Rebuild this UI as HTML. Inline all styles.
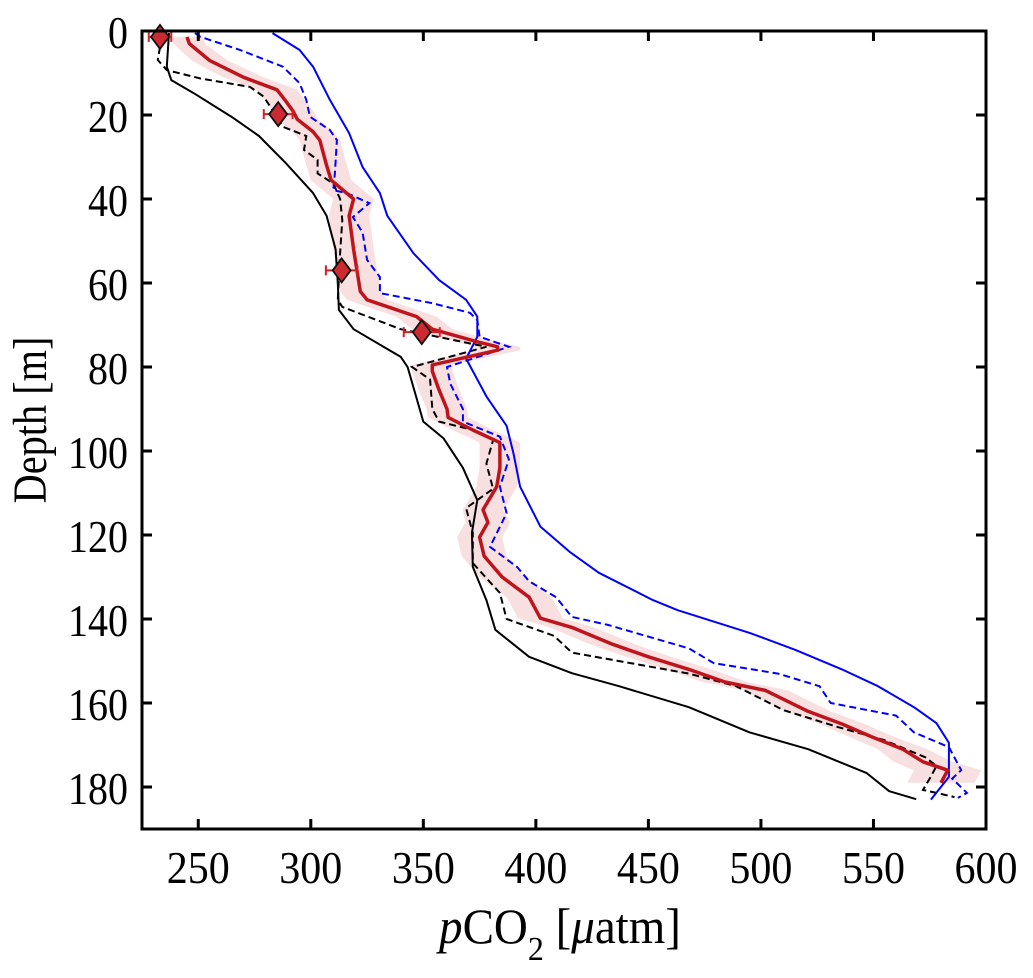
<!DOCTYPE html>
<html><head><meta charset="utf-8"><style>
html,body{margin:0;padding:0;background:#fff;}
svg{display:block;}
text{font-family:"Liberation Serif",serif;fill:#000;}
</style></head><body>
<svg id="chart" width="1033" height="978" viewBox="0 0 1033 978" xmlns="http://www.w3.org/2000/svg">
<g id="plot"></g>
<g id="axes"></g>
<text x="0" y="0" transform="translate(46,420) rotate(-90) scale(0.84,1)" text-anchor="middle" font-size="48">Depth [m]</text>
<text x="0" y="0" transform="translate(560,943) scale(0.94,1)" text-anchor="middle" font-size="50"><tspan font-style="italic">p</tspan>CO<tspan font-size="34" dy="17">2</tspan><tspan dy="-17"> [</tspan><tspan font-style="italic">μ</tspan>atm]</text>
</svg>
<script>
// ---- data ----
const redDepth=[1.4,3,7,11,14,16.4,19,21,24,26,32,35.5,40,44,52,62,64,68,71,74,75.2,76,79.5,81,85.5,90,92,95,98,104,108.5,114,117,120.5,125,130,134.8,139.8,142,146,149,152,155,157,162,165,168,171,174,176,179];
const redVal=[245,246,255,270,285,288.5,292,294,301,304,307,309,319,317,319,322,325,347,354,374,383,383,354,354,357,360.5,361,372,384,384,382.6,376.5,378.7,375,377,385,397,402,416,434,450,468,484,502,521,536,549,563,572,583,580];
const bandHalf=[7,7,8,9,9,9,9,9,9,9,9,9,9,9,9,9,9,9,9,9,10,10,9,9,9,9,9,9,9,9,9,9,10,10,10,10,10,10,10,10,10,10,10,10,10,10,10,11,13,15,15];
const blackDepth=[0.5,8.5,11.7,14.8,20.5,25,31.5,38.6,44,52,60,66.4,71,77.6,80,93,97,104,111.7,119.5,127.6,135.5,142.6,149,152.9,156,161,167,171,176.7,181,182.9];
const blackVal=[237,236,238,248,265,277,289,301,307,311,312,312.5,319,340,343,350,359,367.6,374,371.6,372,378,382,397,416,437,468,495,521,547,557,569];
const bdDepth=[3.8,6.9,9.3,11.3,13.3,15.6,18.8,22.8,25,28.3,30.7,33.9,36.3,40,45,52.9,64,65.7,71,75.2,80,83,90,93,95,97.4,103,109,113.6,119.5,126.7,133.8,140,144,148,150.5,153,156,161.7,165.7,168.8,172.9,175,178,180.7,181.4,182.4];
const bdVal=[233,232,236,251,273,279,283,287.6,298,297,303,303,310,313,314,313,312,314,340,378,345,353,354,357,372,381,378,381,369,372,372,384,387,408,416,442,468,489,510,534,554.6,573,578,575,572,578,586];
const blueDDepth=[0.5,1.4,4.5,8.5,12.4,16.4,20.4,23.6,26,33.8,37.9,38.6,41,44.3,48,54.5,58.6,62.4,64.8,67.1,68.8,72.8,75.2,80,84,90,93,96.6,102,108.5,114.8,122.8,127.6,131,134.8,139.5,141.4,147,150.5,153,156,160,163,167,170.5,176,178,181.4,182.6];
const blueDVal=[248.5,251,268.5,287.6,295,298,299.6,308.5,311.6,310.7,310,316,326,318.7,323,325,330.7,330.7,354,370.7,374,375,388,360.5,362,367.6,367.6,384,388,384,387,379.6,391.6,397,409,416,432,468,479,507.6,526,531,560,568,583.5,589,585,591.5,587.5];
const blueDepth=[0.5,4.5,8.5,16.4,24.3,32.4,38.6,44,52.9,59.3,64,68,72.8,78,87,94,100.5,108.5,118,124,129,135.5,137.9,143.3,147.4,152,156,161,164.8,169.5,177.6,183];
const blueVal=[283,295,301,308.5,317,323,330.7,334,345.6,357,369,374,374,369,378,387,390,393,402,415,428,452,463,495,515.5,536,552,568,578,583.5,583.5,575.5];
const markerDepth=[1.4,19.8,57,71.7];
const markerVal=[233,285.5,313.7,349.3];
const markerErr=[5,6.4,7,8];
const xTicks=[250,300,350,400,450,500,550,600];
const yTicks=[0,20,40,60,80,100,120,140,160,180];

// ---- scales ----
const L=142,R=986,T=31,B=829;
const xMin=225,xMax=600,yMin=0,yMax=190;
function sx(v){return L+(v-xMin)/(xMax-xMin)*(R-L);}
function sy(d){return T+(d-yMin)/(yMax-yMin)*(B-T);}
const NS="http://www.w3.org/2000/svg";
const plot=document.getElementById('plot'),axes=document.getElementById('axes');
function mk(tag,attrs,parent){const e=document.createElementNS(NS,tag);for(const k in attrs)e.setAttribute(k,attrs[k]);parent.appendChild(e);return e;}
function pathFrom(vals,deps){return vals.map((v,i)=>(i?'L':'M')+sx(v).toFixed(1)+','+sy(deps[i]).toFixed(1)).join(' ');}

// band
let bd=redVal.map((v,i)=>(i?'L':'M')+sx(v-bandHalf[i]).toFixed(1)+','+sy(redDepth[i]).toFixed(1)).join(' ');
for(let i=redVal.length-1;i>=0;i--)bd+=' L'+sx(redVal[i]+bandHalf[i]).toFixed(1)+','+sy(redDepth[i]).toFixed(1);
const band=mk('path',{d:bd+' Z',fill:'#f8e0e1',stroke:'none'},plot);



const bs=mk('path',{d:pathFrom(blackVal,blackDepth),fill:'none',stroke:'#000','stroke-width':2,'stroke-linejoin':'round'},plot);


const bdl=mk('path',{d:pathFrom(bdVal,bdDepth),fill:'none',stroke:'#000','stroke-width':2,'stroke-dasharray':'7,4'},plot);


const bls=mk('path',{d:pathFrom(blueVal,blueDepth),fill:'none',stroke:'#0000ff','stroke-width':2,'stroke-linejoin':'round'},plot);


const bld=mk('path',{d:pathFrom(blueDVal,blueDDepth),fill:'none',stroke:'#0000ff','stroke-width':2,'stroke-dasharray':'7,4'},plot);


const rl=mk('path',{d:pathFrom(redVal,redDepth),fill:'none',stroke:'#c0141c','stroke-width':3.5,'stroke-linejoin':'round'},plot);



// markers
markerVal.forEach((v,i)=>{
  const g=mk('g',{},plot);
  
  
  const y=sy(markerDepth[i]),x0=sx(v-markerErr[i]),x1=sx(v+markerErr[i]),x=sx(v);
  mk('path',{d:`M${x0},${y}H${x1}M${x0},${y-5}V${y+5}M${x1},${y-5}V${y+5}`,stroke:'#d02028','stroke-width':2,fill:'none'},g);
  mk('path',{d:`M${x},${y-12}L${x+9},${y}L${x},${y+12}L${x-9},${y}Z`,fill:'#cc2a30',stroke:'#111','stroke-width':1.8},g);
});

// axes box
const box=mk('rect',{x:L,y:T,width:R-L,height:B-T,fill:'none',stroke:'#000','stroke-width':3},axes);


xTicks.forEach(t=>{
  const x=sx(t);
  const tk=mk('path',{d:`M${x},${B}V${B-10}M${x},${T}V${T+10}`,stroke:'#000','stroke-width':3},axes);
  
  
  const s=String(t);
  const lb=mk('text',{x:x,y:883,'text-anchor':'middle','font-size':46,textLength:s.length*21,lengthAdjust:'spacingAndGlyphs'},axes);
  lb.textContent=s;
  
  
});
yTicks.forEach(t=>{
  const y=sy(t);
  const tk=mk('path',{d:`M${L},${y}H${L+10}M${R},${y}H${R-10}`,stroke:'#000','stroke-width':3},axes);
  
  
  const s=String(t);
  const lb=mk('text',{x:128,y:y+17,'text-anchor':'end','font-size':46,textLength:s.length*20,lengthAdjust:'spacingAndGlyphs'},axes);
  lb.textContent=s;
  
  
});
</script>
</body></html>
